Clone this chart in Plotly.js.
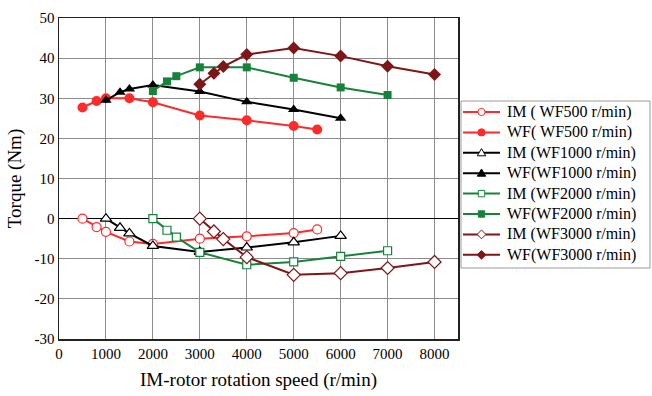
<!DOCTYPE html>
<html>
<head>
<meta charset="utf-8">
<script src="https://cdn.plot.ly/plotly-3.0.1.min.js"></script>
<style>
  html, body { margin: 0; padding: 0; background: #fff; }
  #chart { width: 652px; height: 396px; }
</style>
</head>
<body>
<div id="chart"></div>
<script>
// Rotation speeds (r/min) and torque (Nm) for each operating case
const speedWF500 = [500, 800, 1000, 1500, 2000, 3000, 4000, 5000, 5500];
const imWF500 = [0, -2.1, -3.3, -5.7, -6.3, -5.0, -4.4, -3.6, -2.7];
const wfWF500 = [27.7, 29.3, 30.0, 30.0, 29.0, 25.7, 24.5, 23.1, 22.2];

const speedWF1000 = [1000, 1300, 1500, 2000, 3000, 4000, 5000, 6000];
const imWF1000 = [0, -2.3, -3.7, -6.8, -8.3, -7.2, -5.9, -4.3];
const wfWF1000 = [29.5, 31.5, 32.3, 33.3, 31.7, 29.1, 27.2, 25.0];

const speedWF2000 = [2000, 2300, 2500, 3000, 4000, 5000, 6000, 7000];
const imWF2000 = [0, -2.9, -4.6, -8.4, -11.5, -10.8, -9.4, -8.0];
const wfWF2000 = [31.8, 34.2, 35.5, 37.7, 37.7, 35.1, 32.7, 30.8];

const speedWF3000 = [3000, 3300, 3500, 4000, 5000, 6000, 7000, 8000];
const imWF3000 = [0, -3.2, -5.1, -9.6, -14.0, -13.6, -12.3, -10.8];
const wfWF3000 = [33.5, 36.2, 37.9, 40.9, 42.5, 40.5, 38.0, 35.9];

const seriesNames = [
  'IM ( WF500 r/min)', 'WF( WF500 r/min)',
  'IM (WF1000 r/min)', 'WF(WF1000 r/min)',
  'IM (WF2000 r/min)', 'WF(WF2000 r/min)',
  'IM (WF3000 r/min)', 'WF(WF3000 r/min)'
];

const xTicks = [0, 1000, 2000, 3000, 4000, 5000, 6000, 7000, 8000];
const yTicks = [-30, -20, -10, 0, 10, 20, 30, 40, 50];

const RED = '#ff2a2a', BLACK = '#000000', GREEN = '#17833a', MAROON = '#7e1517';

// style of each series: colour, symbol, open (white fill) or filled
const styles = [
  { color: RED, symbol: 'circle', open: true, size: 9 },
  { color: RED, symbol: 'circle', open: false, size: 10 },
  { color: BLACK, symbol: 'triangle-up', open: true, size: 10 },
  { color: BLACK, symbol: 'triangle-up', open: false, size: 10 },
  { color: GREEN, symbol: 'square', open: true, size: 8 },
  { color: GREEN, symbol: 'square', open: false, size: 8 },
  { color: MAROON, symbol: 'diamond', open: true, size: 10 },
  { color: MAROON, symbol: 'diamond', open: false, size: 10 }
];

const seriesX = [speedWF500, speedWF500, speedWF1000, speedWF1000, speedWF2000, speedWF2000, speedWF3000, speedWF3000];
const seriesY = [imWF500, wfWF500, imWF1000, wfWF1000, imWF2000, wfWF2000, imWF3000, wfWF3000];

const data = seriesNames.map((name, i) => {
  const s = styles[i];
  return {
    type: 'scatter', mode: 'lines+markers', name: name,
    x: seriesX[i], y: seriesY[i],
    line: { color: s.color, width: 2 },
    marker: {
      symbol: s.symbol, size: s.size,
      color: s.open ? '#ffffff' : s.color,
      line: { color: s.color, width: s.open ? 1.2 : 0 }
    }
  };
});

// ---- legend box, drawn beside the plot area ----
const W = 652, H = 396;
const M = { l: 59, r: 194, t: 18, b: 57 };
const plotW = W - M.l - M.r, plotH = H - M.t - M.b;
const px = x => (x - M.l) / plotW;          // page pixel -> paper x
const py = y => (H - M.b - y) / plotH;      // page pixel -> paper y

const shapes = [];
const annotations = [];
const box = { left: 461, right: 650, top: 101, bottom: 268 };
shapes.push({
  type: 'rect', xref: 'paper', yref: 'paper',
  x0: px(box.left), x1: px(box.right), y0: py(box.bottom), y1: py(box.top),
  line: { color: '#9a9a9a', width: 1 }, fillcolor: '#ffffff'
});

const rowTop = 112, rowStep = 20.4;
const lineX0 = 463, lineX1 = 500, symX = 481.5, textX = 505;

function symbolShape(s, cx, cy) {
  const fill = s.open ? '#ffffff' : s.color;
  const base = { xref: 'paper', yref: 'paper', fillcolor: fill, line: { color: s.color, width: 1 } };
  const P = (x, y) => px(x) + ',' + py(y);
  if (s.symbol === 'circle') {
    const r = 3.6;
    return Object.assign(base, { type: 'circle', x0: px(cx - r), x1: px(cx + r), y0: py(cy + r), y1: py(cy - r) });
  }
  if (s.symbol === 'square') {
    const h = 3.2;
    return Object.assign(base, { type: 'rect', x0: px(cx - h), x1: px(cx + h), y0: py(cy + h), y1: py(cy - h) });
  }
  if (s.symbol === 'triangle-up') {
    return Object.assign(base, { type: 'path', path: 'M' + P(cx, cy - 4.2) + ' L' + P(cx + 4.2, cy + 3) + ' L' + P(cx - 4.2, cy + 3) + ' Z' });
  }
  const d = 4.4;
  return Object.assign(base, { type: 'path', path: 'M' + P(cx, cy - d) + ' L' + P(cx + d, cy) + ' L' + P(cx, cy + d) + ' L' + P(cx - d, cy) + ' Z' });
}

seriesNames.forEach((name, i) => {
  const s = styles[i];
  const cy = rowTop + i * rowStep;
  shapes.push({
    type: 'line', xref: 'paper', yref: 'paper',
    x0: px(lineX0), x1: px(lineX1), y0: py(cy), y1: py(cy),
    line: { color: s.color, width: 2 }
  });
  shapes.push(symbolShape(s, symX, cy));
  annotations.push({
    xref: 'paper', yref: 'paper', x: px(textX), y: py(cy),
    xanchor: 'left', yanchor: 'middle', showarrow: false,
    text: name, font: { family: 'Liberation Serif, Times New Roman, serif', size: 16, color: '#000' }
  });
});

const serif = 'Liberation Serif, Times New Roman, serif';

const layout = {
  width: W, height: H,
  margin: M,
  paper_bgcolor: '#ffffff', plot_bgcolor: '#ffffff',
  font: { family: serif, size: 15, color: '#000' },
  showlegend: false,
  shapes: shapes,
  annotations: annotations,
  xaxis: {
    range: [0, 8500], tickvals: xTicks, ticktext: xTicks.map(String),
    showgrid: true, gridcolor: '#8c8c8c', gridwidth: 1,
    zeroline: false, showline: true, mirror: true, linecolor: '#222', linewidth: 1.5,
    ticks: '', tickfont: { family: serif, size: 15 },
    title: { text: 'IM-rotor rotation speed (r/min)', font: { family: serif, size: 19 }, standoff: 12 }
  },
  yaxis: {
    range: [-30, 50], tickvals: yTicks, ticktext: yTicks.map(String),
    showgrid: true, gridcolor: '#8c8c8c', gridwidth: 1,
    zeroline: true, zerolinecolor: '#000', zerolinewidth: 1.5,
    showline: true, mirror: true, linecolor: '#222', linewidth: 1.5,
    ticks: '', tickfont: { family: serif, size: 15 },
    title: { text: 'Torque (Nm)', font: { family: serif, size: 19 }, standoff: 8 }
  }
};

Plotly.newPlot('chart', data, layout, { displayModeBar: false, staticPlot: true });
</script>
</body>
</html>
